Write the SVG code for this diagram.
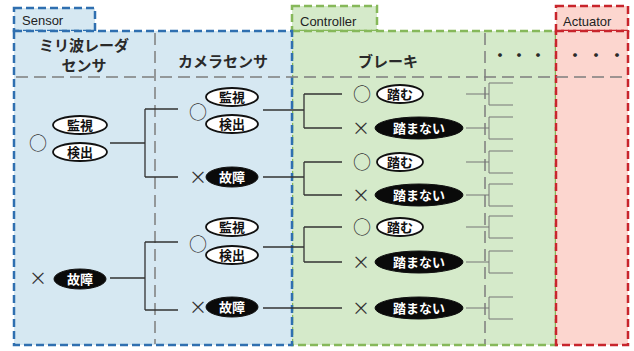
<svg xmlns="http://www.w3.org/2000/svg" width="634" height="351" viewBox="0 0 634 351">
<defs>
<style>
.tab{font-family:"Liberation Sans",Arial,sans-serif;font-size:13px;fill:#222}
.hd{font-family:"Noto Sans CJK JP",sans-serif;font-size:15px;font-weight:bold;fill:#2a2a2a;text-anchor:middle}
.dot{font-family:"Noto Sans CJK JP",sans-serif;font-size:15px;font-weight:bold;fill:#2a2a2a;text-anchor:middle}
.lb{font-family:"Noto Sans CJK JP",sans-serif;font-size:13px;font-weight:bold;text-anchor:middle}
.sym{font-family:"Noto Sans CJK JP",sans-serif;font-size:18px;fill:#333;text-anchor:middle}
.w{fill:#fff;stroke:#111;stroke-width:1.8}
.b{fill:#0a0a0a;stroke:#111;stroke-width:1}
.wt{fill:#111}
.bt{fill:#fff}
.div{stroke:#7d7d7d;stroke-width:1.5;stroke-dasharray:12 6;fill:none}
.ln{stroke:#333;stroke-width:1.3;fill:none}
.st{stroke:#777;stroke-width:1;fill:none}
</style>
</defs>
<g id="panels">
<rect x="292" y="6" width="85" height="25" fill="#d5eaca" stroke="#86b85a" stroke-width="2.5" stroke-dasharray="8 4"/>
<rect x="292" y="31" width="264" height="314" fill="#d5eaca" stroke="#86b85a" stroke-width="2.5" stroke-dasharray="8 4"/>
<rect x="556" y="6" width="72" height="25" fill="#fcd6cf" stroke="#c8252c" stroke-width="2.5" stroke-dasharray="8 4"/>
<rect x="556" y="31" width="72" height="314" fill="#fcd6cf" stroke="#c8252c" stroke-width="2.5" stroke-dasharray="8 4"/>
<rect x="14" y="8" width="81" height="23" fill="#d6e8f2" stroke="#2f6fb0" stroke-width="2.5" stroke-dasharray="8 4"/>
<rect x="14" y="31" width="278" height="314" fill="#d6e8f2" stroke="#2f6fb0" stroke-width="2.5" stroke-dasharray="8 4"/>
<text class="tab" x="22" y="25">Sensor</text>
<text class="tab" x="300" y="26">Controller</text>
<text class="tab" x="563" y="26">Actuator</text>
<line class="div" x1="16" y1="77" x2="627" y2="77"/>
<line class="div" x1="155" y1="33" x2="155" y2="344"/>
<line class="div" x1="485" y1="33" x2="485" y2="344"/>
<text class="hd" x="84" y="51">ミリ波レーダ</text>
<text class="hd" x="84" y="71">センサ</text>
<text class="hd" x="223" y="67">カメラセンサ</text>
<text class="hd" x="388" y="67">ブレーキ</text>
<text class="dot" x="500 519 538" y="61">・・・</text>
<text class="dot" x="575 596 617" y="61">・・・</text>
</g>
<g id="connectors">
<path class="ln" d="M110,143H145M145,109V177M145,109H178M145,177H178"/>
<path class="ln" d="M110,278H145M145,242V310M145,242H178M145,310H178"/>
<path class="ln" d="M263,110H304M304,94V128M304,94H342M304,128H342"/>
<path class="ln" d="M263,177H304M304,162V195M304,162H342M304,195H342"/>
<path class="ln" d="M263,247H304M304,227V262M304,227H342M304,262H342"/>
<path class="ln" d="M263,308H342"/>
<path class="st" d="M466,94H489M489,83V105M489,83H513M489,105H513"/>
<path class="st" d="M466,128H489M489,117V139M489,117H513M489,139H513"/>
<path class="st" d="M466,162H489M489,151V173M489,151H513M489,173H513"/>
<path class="st" d="M466,195H489M489,184V206M489,184H513M489,206H513"/>
<path class="st" d="M466,227H489M489,216V238M489,216H513M489,238H513"/>
<path class="st" d="M466,262H489M489,251V273M489,251H513M489,273H513"/>
<path class="st" d="M466,308H489M489,297V319M489,297H513M489,319H513"/>
</g>
<g id="radar-ok">
<text class="sym" x="38" y="150">○</text>
<ellipse class="w" cx="80" cy="125" rx="27" ry="9"/><text class="lb wt" x="80" y="130">監視</text>
<ellipse class="w" cx="80" cy="152" rx="27" ry="9"/><text class="lb wt" x="80" y="157">検出</text>
</g>
<g id="radar-ng">
<text class="sym" x="38" y="285">×</text>
<ellipse class="b" cx="80" cy="279" rx="26" ry="10"/><text class="lb bt" x="80" y="284">故障</text>
</g>
<g id="cam-ok-1">
<text class="sym" x="198" y="119">○</text>
<ellipse class="w" cx="232" cy="97" rx="26" ry="9"/><text class="lb wt" x="232" y="102">監視</text>
<ellipse class="w" cx="232" cy="124" rx="26" ry="9"/><text class="lb wt" x="232" y="129">検出</text>
</g>
<g id="cam-ng-1">
<text class="sym" x="198" y="184">×</text>
<ellipse class="b" cx="232" cy="177" rx="26" ry="10"/><text class="lb bt" x="232" y="182">故障</text>
</g>
<g id="cam-ok-2">
<text class="sym" x="198" y="251">○</text>
<ellipse class="w" cx="232" cy="227" rx="26" ry="9"/><text class="lb wt" x="232" y="232">監視</text>
<ellipse class="w" cx="232" cy="255" rx="26" ry="9"/><text class="lb wt" x="232" y="260">検出</text>
</g>
<g id="cam-ng-2">
<text class="sym" x="198" y="314">×</text>
<ellipse class="b" cx="232" cy="307" rx="26" ry="10"/><text class="lb bt" x="232" y="312">故障</text>
</g>
<g id="brake-1a">
<text class="sym" x="362" y="101">○</text>
<ellipse class="w" cx="400" cy="94" rx="23" ry="9"/><text class="lb wt" x="400" y="99">踏む</text>
</g>
<g id="brake-1b">
<text class="sym" x="361" y="135">×</text>
<ellipse class="b" cx="419" cy="128" rx="44" ry="11"/><text class="lb bt" x="419" y="133">踏まない</text>
</g>
<g id="brake-2a">
<text class="sym" x="362" y="169">○</text>
<ellipse class="w" cx="400" cy="162" rx="23" ry="9"/><text class="lb wt" x="400" y="167">踏む</text>
</g>
<g id="brake-2b">
<text class="sym" x="361" y="202">×</text>
<ellipse class="b" cx="419" cy="195" rx="44" ry="11"/><text class="lb bt" x="419" y="200">踏まない</text>
</g>
<g id="brake-3a">
<text class="sym" x="362" y="234">○</text>
<ellipse class="w" cx="400" cy="227" rx="23" ry="9"/><text class="lb wt" x="400" y="232">踏む</text>
</g>
<g id="brake-3b">
<text class="sym" x="361" y="269">×</text>
<ellipse class="b" cx="419" cy="262" rx="44" ry="11"/><text class="lb bt" x="419" y="267">踏まない</text>
</g>
<g id="brake-4b">
<text class="sym" x="361" y="315">×</text>
<ellipse class="b" cx="419" cy="308" rx="44" ry="11"/><text class="lb bt" x="419" y="313">踏まない</text>
</g>
</svg>
